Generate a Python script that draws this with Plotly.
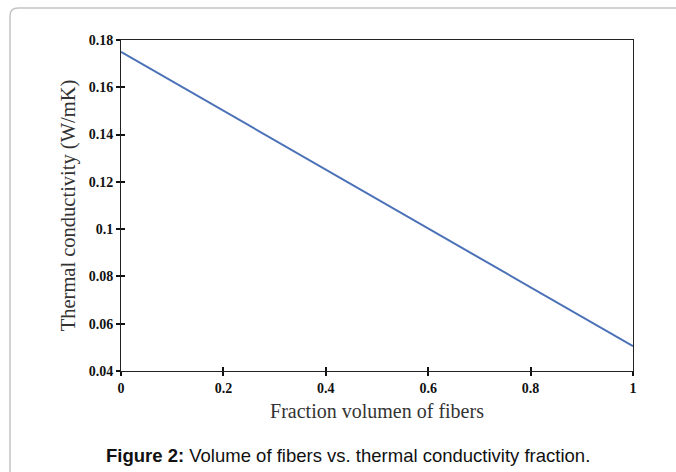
import plotly.graph_objects as go

# Data
fraction_volume = [0.0, 1.0]
thermal_conductivity = [0.175, 0.0505]

x_tickvals = [0, 0.2, 0.4, 0.6, 0.8, 1]
x_ticktext = ["0", "0.2", "0.4", "0.6", "0.8", "1"]
y_tickvals = [0.04, 0.06, 0.08, 0.1, 0.12, 0.14, 0.16, 0.18]
y_ticktext = ["0.04", "0.06", "0.08", "0.1", "0.12", "0.14", "0.16", "0.18"]

x_title = "Fraction volumen of fibers"
y_title = "Thermal conductivity (W/mK)"
caption_bold = "Figure 2:"
caption_text = " Volume of fibers vs. thermal conductivity fraction."

serif = "Liberation Serif, Times New Roman, serif"
sans = "Liberation Sans, Arial, sans-serif"

fig = go.Figure()
fig.add_trace(go.Scatter(
    x=fraction_volume, y=thermal_conductivity, mode="lines",
    line=dict(color="#4b71b7", width=2), showlegend=False, hoverinfo="skip",
))
# invisible trace to activate overlay axes for crossing ticks
fig.add_trace(go.Scatter(x=fraction_volume, y=thermal_conductivity, mode="lines",
                         line=dict(width=0), xaxis="x2", yaxis="y2",
                         showlegend=False, hoverinfo="skip", opacity=0))

fig.update_layout(
    width=676, height=472,
    margin=dict(l=121, r=43, t=40, b=101),
    paper_bgcolor="white", plot_bgcolor="white",
    xaxis=dict(
        range=[0, 1], tickvals=x_tickvals, ticktext=x_ticktext,
        ticks="outside", ticklen=4, tickwidth=1.5, tickcolor="#111",
        showline=True, linecolor="#222", linewidth=1, mirror=True,
        showgrid=False, zeroline=False,
        tickfont=dict(family=serif, size=14, color="#111", weight="bold"),
        title=dict(text=x_title, font=dict(family=serif, size=20, color="#333"), standoff=9),
    ),
    yaxis=dict(
        range=[0.04, 0.18], tickvals=y_tickvals, ticktext=y_ticktext,
        ticks="outside", ticklen=4, tickwidth=1.5, tickcolor="#111",
        showline=True, linecolor="#222", linewidth=1, mirror=True,
        showgrid=False, zeroline=False,
        tickfont=dict(family=serif, size=14, color="#111", weight="bold"),
        title=dict(text=y_title, font=dict(family=serif, size=20.5, color="#333"), standoff=7),
    ),
    xaxis2=dict(
        range=[0, 1], tickvals=x_tickvals[1:-1], overlaying="x", side="bottom",
        ticks="inside", ticklen=4, tickwidth=1.5, tickcolor="#111",
        showticklabels=False, showgrid=False, zeroline=False, showline=False,
        anchor="y2",
    ),
    yaxis2=dict(
        range=[0.04, 0.18], tickvals=y_tickvals[1:-1], overlaying="y", side="left",
        ticks="inside", ticklen=4, tickwidth=1.5, tickcolor="#111",
        showticklabels=False, showgrid=False, zeroline=False, showline=False,
        anchor="x2",
    ),
    shapes=[dict(
        type="path", xref="paper", yref="paper",
        xsizemode="pixel", ysizemode="pixel", xanchor=0, yanchor=1,
        path="M -111,-480 L -111,24 Q -111,32 -103,32 L 620,32",
        line=dict(color="#c4c4c4", width=1.5), fillcolor="rgba(0,0,0,0)",
    )],
    annotations=[dict(
        text="<b>" + caption_bold + "</b>" + caption_text,
        xref="paper", yref="paper", x=0.443, y=-0.2538,
        xanchor="center", yanchor="middle", showarrow=False,
        font=dict(family=sans, size=18.5, color="#111"),
    )],
)

fig.write_html(
    "out.html",
    config={"displayModeBar": False},
    post_script="document.body.style.margin='0';document.body.style.overflow='hidden';",
)
